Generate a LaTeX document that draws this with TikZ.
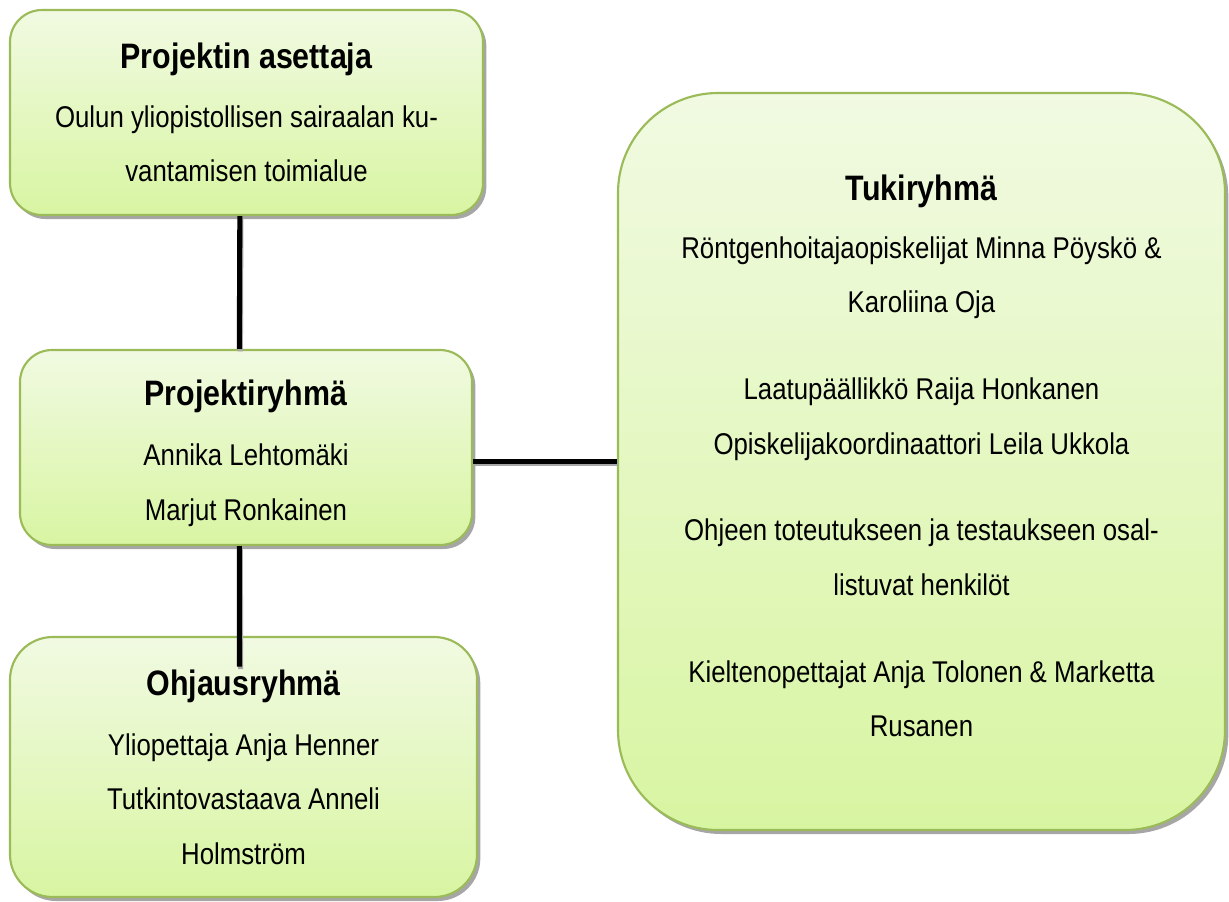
\documentclass[tikz,border=0pt]{standalone}
\usepackage{fontspec}
\setmainfont{Liberation Sans}[FakeStretch=0.86]
\usepackage{tikz}
\usetikzlibrary{positioning, shadows}

\definecolor{boxline}{HTML}{9BBB59}
\definecolor{boxtop}{HTML}{F1FAE2}
\definecolor{boxbot}{HTML}{D8F5A2}
\newcommand{\bodyfont}{\fontsize{22.5}{41}\selectfont}
\newcommand{\headfont}{\fontsize{26.5}{41}\selectfont\bfseries}

\begin{document}
\begin{tikzpicture}[x=0.75pt, y=-0.75pt,
    groupbox/.style={draw=boxline, line width=1.6pt, top color=boxtop, bottom color=boxbot,
        align=center, font=\bodyfont, inner sep=0pt,
        drop shadow={shadow xshift=2.5pt, shadow yshift=-3pt, opacity=0.35, fill=black}},
    link/.style={line width=3.8pt, black,
        preaction={draw, black!35, line width=3.8pt, transform canvas={xshift=0.8pt, yshift=-1.8pt}}}]
    \useasboundingbox (0,0) rectangle (1229,901);
    \node[groupbox, rounded corners=24pt, minimum width=473*0.75pt, minimum height=205*0.75pt] (asettaja) at (246.5, 112.5)
        {{\headfont Projektin asettaja}\\[3pt] Oulun yliopistollisen sairaalan ku-\\ vantamisen toimialue};
    \node[groupbox, rounded corners=24pt, minimum width=452*0.75pt, minimum height=195*0.75pt] (ryhma) at (246, 447.5)
        {{\headfont\rule{0pt}{28pt}Projektiryhmä}\\[4pt] Annika Lehtomäki\\ Marjut Ronkainen};
    \node[groupbox, rounded corners=32pt, minimum width=467*0.75pt, minimum height=260*0.75pt] (ohjaus) at (243.5, 767)
        {{\headfont Ohjausryhmä}\\[4pt] Yliopettaja Anja Henner\\ Tutkintovastaava Anneli\\ Holmström};
    \node[groupbox, rounded corners=75pt, minimum width=607*0.75pt, minimum height=737*0.75pt] (tuki) at (921.5, 461.5)
        {{\headfont Tukiryhmä}\\[2pt] Röntgenhoitajaopiskelijat Minna Pöyskö \&\\ Karoliina Oja\\[24pt]
         Laatupäällikkö Raija Honkanen\\ Opiskelijakoordinaattori Leila Ukkola\\[24pt]
         Ohjeen toteutukseen ja testaukseen osal-\\ listuvat henkilöt\\[24pt]
         Kieltenopettajat Anja Tolonen \& Marketta\\ Rusanen\rule[-8pt]{0pt}{8pt}};
    \draw[link] ([xshift=-5pt]asettaja.south) -- ([xshift=-5pt]ryhma.north);
    \draw[link] ([xshift=-5pt]ryhma.south) -- ([xshift=-3pt, yshift=-23pt]ohjaus.north);
    \draw[link] (ryhma.east |- tuki.west) -- (tuki.west);
\end{tikzpicture}
\end{document}
